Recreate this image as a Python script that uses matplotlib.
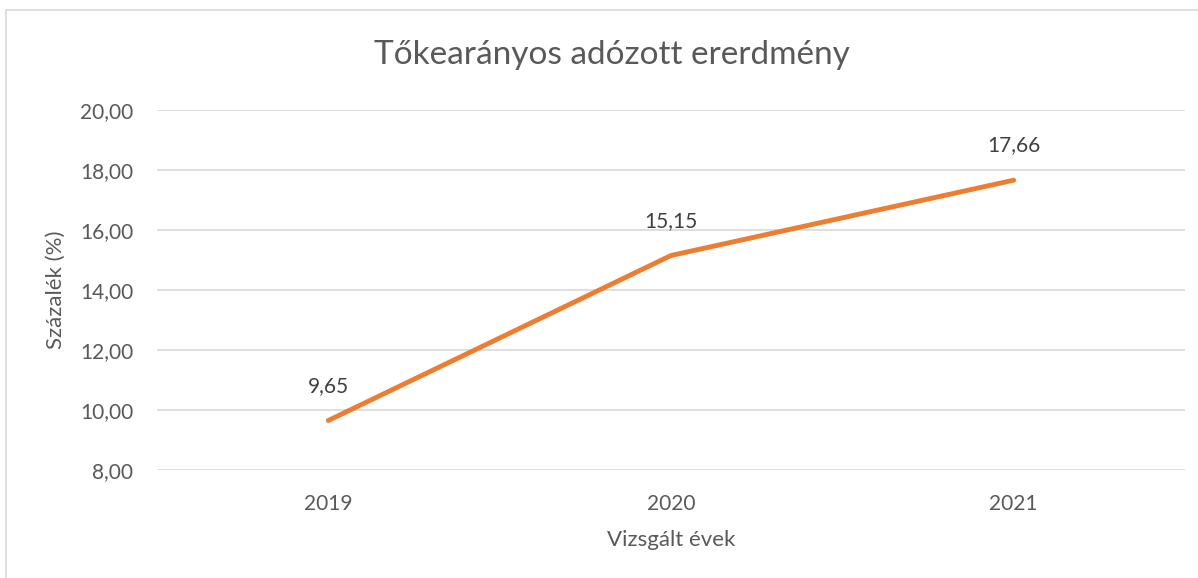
import numpy as np
import matplotlib
matplotlib.use('Agg')
import matplotlib.pyplot as plt
from matplotlib.patches import Rectangle

years = ['2019', '2020', '2021']
values = [9.65, 15.15, 17.66]
value_labels = ['9,65', '15,15', '17,66']
y_ticks = [8, 10, 12, 14, 16, 18, 20]

plt.rcParams['font.family'] = ['Lato', 'DejaVu Sans']

fig = plt.figure(figsize=(11.98, 5.78), dpi=100)
ax = fig.add_axes([157/1198, 1-470/578, (1185-157)/1198, 360/578])

x = np.arange(len(years))
ax.plot(x, values, color='#ED7D31', linewidth=3.5, solid_capstyle='round', zorder=3)
for xi, v, lab in zip(x, values, value_labels):
    ax.annotate(lab, (xi, v), xytext=(0, 25), textcoords='offset points',
                ha='center', va='center', fontsize=15, color='#404040')

ax.set_xlim(-0.5, 2.5)
ax.set_ylim(8, 20)
ax.set_yticks(y_ticks)
ax.set_yticklabels([('%.2f' % t).replace('.', ',') for t in y_ticks])
ax.set_xticks(x)
ax.set_xticklabels(years)
ax.grid(axis='y', color='#D9D9D9', linewidth=1.2)
ax.set_axisbelow(True)
for s in ax.spines.values():
    s.set_visible(False)
ax.tick_params(length=0, labelsize=15, colors='#595959')
ax.tick_params(axis='y', pad=17)
ax.tick_params(axis='x', pad=17)

ax.set_ylabel('Százalék (%)', fontsize=16, color='#595959', labelpad=10)
ax.set_xlabel('Vizsgált évek', fontsize=16, color='#595959', labelpad=12)
fig.text(612/1198, 1-55/578, 'Tőkearányos adózott ererdmény', fontsize=24,
         color='#595959', ha='center', va='center')

fig.patches.append(Rectangle((6/1198, -0.1), 1.2, 1-10/578+0.1,
                             transform=fig.transFigure, fill=False,
                             edgecolor='#D9D9D9', linewidth=1.2))

fig.savefig('out.png', dpi=100)
